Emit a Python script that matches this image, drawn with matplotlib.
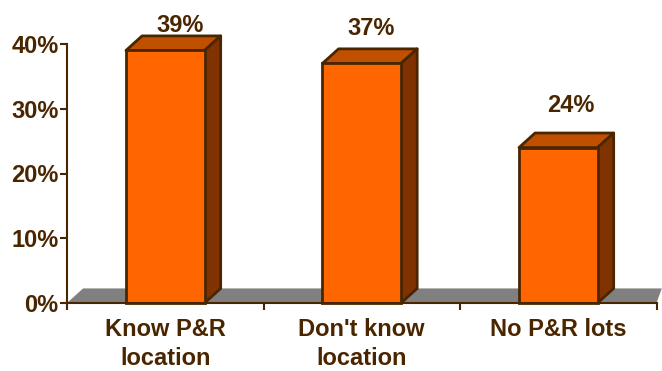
import matplotlib
matplotlib.use("Agg")
import matplotlib.pyplot as plt
from matplotlib.patches import Polygon

categories = ["Know P&R\nlocation", "Don't know\nlocation", "No P&R lots"]
values = [39, 37, 24]
yticks = [0, 10, 20, 30, 40]

# hand placed value labels, offsets from top of the front face in pixels
label_dx = [15, 9, 13]
label_dy = [25, 35, 42]

dark = "#4a2600"
front = "#ff6600"
top = "#c05000"
side = "#803300"
floor = "#808080"

plt.rcParams["font.family"] = ["Liberation Sans", "DejaVu Sans"]
plt.rcParams["font.weight"] = "bold"

W, H = 662, 371
fig = plt.figure(figsize=(W / 100, H / 100), dpi=100)
ax = fig.add_axes([67 / W, 1 - 303 / H, (656.5 - 67) / W, (303 - 44) / H])
ax.set_xlim(0, 3)
ax.set_ylim(0, 40)
ax.patch.set_visible(False)

# fake 3d offset in data units
dx = 0.082
dy = 2.25
bar_w = 0.4
lw = 2
px = 72 / 100  # points per pixel

ax.add_patch(Polygon([(0, 0), (dx, dy), (3 + 0.027, dy), (3, 0)],
                     closed=True, fc=floor, ec="none", clip_on=False, zorder=1))

for i, v in enumerate(values):
    x0 = i + 0.5 - bar_w / 2
    x1 = x0 + bar_w
    ax.bar(i + 0.5, v, width=bar_w, color=front, edgecolor=dark, linewidth=lw,
           clip_on=False, zorder=3)
    ax.add_patch(Polygon([(x0, v), (x0 + dx, v + dy), (x1 + dx, v + dy), (x1, v)],
                         closed=True, fc=top, ec=dark, lw=lw, clip_on=False,
                         joinstyle="round", zorder=2))
    ax.add_patch(Polygon([(x1, 0), (x1 + dx, dy), (x1 + dx, v + dy), (x1, v)],
                         closed=True, fc=side, ec=dark, lw=lw, clip_on=False,
                         joinstyle="round", zorder=2))
    ax.annotate(f"{v}%", (i + 0.5, v), xytext=(label_dx[i] * px, label_dy[i] * px),
                textcoords="offset points", ha="center", va="center",
                color=dark, fontsize=17, fontweight="bold", annotation_clip=False)

for s in ["top", "right"]:
    ax.spines[s].set_visible(False)
for s in ["left", "bottom"]:
    ax.spines[s].set_color(dark)
    ax.spines[s].set_linewidth(1.5)
    ax.spines[s].set_zorder(4)

ax.set_yticks(yticks)
ax.set_yticklabels([f"{t}%" for t in yticks])
ax.set_xticks([0, 1, 2, 3])
ax.set_xticklabels([])
ax.set_xticks([0.5, 1.5, 2.5], labels=categories, minor=True)
ax.tick_params(axis="x", which="major", length=5, width=1.5, color=dark)
ax.tick_params(axis="x", which="minor", length=0, pad=11, labelsize=17, labelcolor=dark)
ax.tick_params(axis="y", length=5, width=1.5, color=dark, pad=1, labelsize=17, labelcolor=dark)
for lab in ax.get_xticklabels(minor=True):
    lab.set_linespacing(1.3)

fig.savefig("out.png", dpi=100, facecolor="white")
